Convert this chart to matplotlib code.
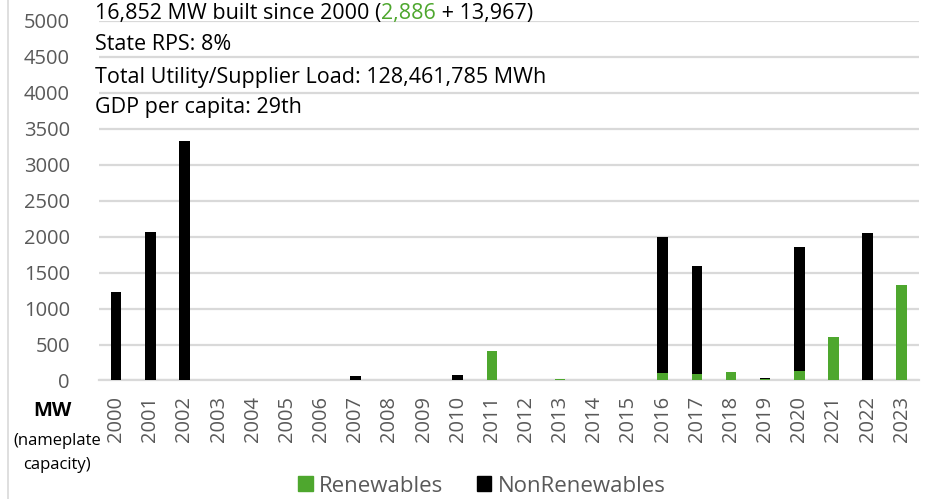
import numpy as np
import matplotlib
matplotlib.use("Agg")
import matplotlib.pyplot as plt
from matplotlib.lines import Line2D
from matplotlib.patches import Patch

plt.rcParams['font.family'] = ['Open Sans', 'DejaVu Sans']

# data (MW nameplate capacity)
years = [str(y) for y in range(2000, 2024)]
renewables = [0, 0, 0, 0, 0, 0, 0, 0, 0, 0, 0, 415, 0, 15, 0, 0,
              100, 87, 115, 20, 130, 610, 0, 1322]
nonrenewables = [1225, 2070, 3323, 0, 0, 0, 0, 62, 0, 0, 75, 0, 0, 0, 0, 0,
                 1897, 1508, 0, 10, 1723, 0, 2053, 0]

info_lines = ["State RPS: 8%",
              "Total Utility/Supplier Load: 128,461,785 MWh",
              "GDP per capita: 29th"]

green = '#4EA72E'
grey = '#595959'
gridc = '#D9D9D9'

fig = plt.figure(figsize=(9.30, 4.99), dpi=100)
ax = fig.add_axes([0.1065, 0.2375, 0.8815, 0.721])

x = np.arange(len(years))
ren = np.array(renewables)
non = np.array(nonrenewables)
ax.bar(x, ren, width=0.31, color=green, zorder=3)
ax.bar(x, non, width=0.31, bottom=ren, color='black', zorder=3)

ax.set_xlim(-0.5, len(years) - 0.5)
ax.set_ylim(0, 5000)
ax.set_yticks(np.arange(0, 5001, 500))
ax.set_xticks(x)
ax.set_xticklabels(years, rotation=90)
ax.tick_params(axis='both', length=0, labelsize=14.5, labelcolor=grey)
ax.tick_params(axis='y', pad=21)
ax.tick_params(axis='x', pad=11)
ax.grid(axis='y', color=gridc, linewidth=1.6, zorder=0)
ax.set_axisbelow(True)
for s in ['left', 'right', 'top']:
    ax.spines[s].set_visible(False)
ax.spines['bottom'].set_color(gridc)
ax.spines['bottom'].set_linewidth(1.6)

# info text at top left
fs = 15.5
t1 = fig.text(95 / 930, 1 - 13 / 499, "16,852 MW built since 2000 (", fontsize=fs,
              va='center', ha='left', color='black')
t2 = ax.annotate("2,886", xy=(1, 0), xycoords=t1, va='bottom', ha='left',
                 fontsize=fs, color=green)
t3 = ax.annotate(" + 13,967)", xy=(1, 0), xycoords=t2, va='bottom', ha='left',
                 fontsize=fs, color='black')
for txt, yy in zip(info_lines, [45, 77, 107]):
    fig.text(95 / 930, 1 - yy / 499, txt, fontsize=fs, va='center', ha='left',
             color='black')

# axis unit label
fig.text(52 / 930, 1 - 411 / 499, "MW", fontsize=14.5, fontweight='bold',
         ha='center', va='center')
fig.text(57 / 930, 1 - 441 / 499, "(nameplate", fontsize=12, ha='center', va='center')
fig.text(57 / 930, 1 - 465 / 499, "capacity)", fontsize=12, ha='center', va='center')

# legend
handles = [Patch(color=green, label='Renewables'),
           Patch(color='black', label='NonRenewables')]
leg = fig.legend(handles=handles, loc='center', bbox_to_anchor=(482 / 930, 1 - 486 / 499),
                 ncol=2, frameon=False, fontsize=16, handlelength=0.65,
                 handleheight=0.65, handletextpad=0.3, columnspacing=1.5)
for t in leg.get_texts():
    t.set_color(grey)

# left border of chart area
fig.add_artist(Line2D([7.5 / 930, 7.5 / 930], [0, 1], color=gridc, linewidth=1.2))

fig.savefig("out.png", dpi=100)
